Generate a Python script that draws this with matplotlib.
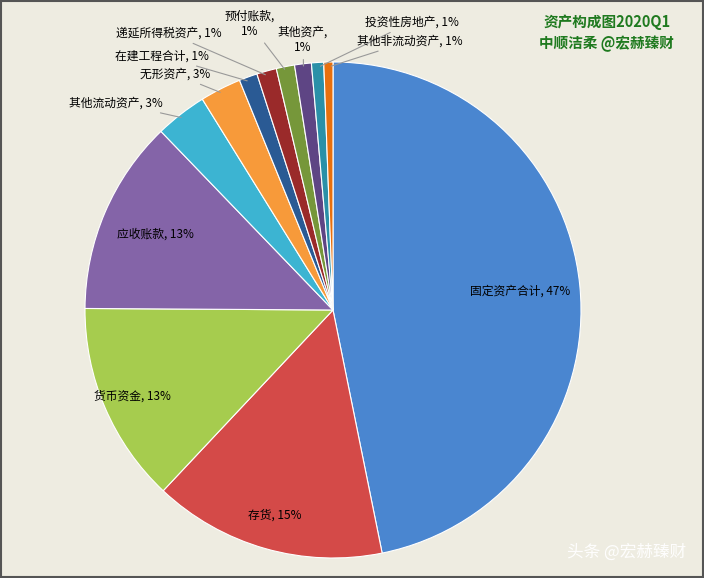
import numpy as np
import matplotlib.pyplot as plt

plt.rcParams['font.family'] = ['Noto Sans CJK SC', 'DejaVu Sans']

labels = ['固定资产合计', '存货', '货币资金', '应收账款', '其他流动资产', '无形资产',
          '在建工程合计', '递延所得税资产', '预付账款', '其他资产', '投资性房地产', '其他非流动资产']
values = [47.2, 15.3, 13.2, 12.8, 3.4, 2.7, 1.2, 1.3, 1.2, 1.1, 0.8, 0.6]
pct_text = ['47%', '15%', '13%', '13%', '3%', '3%', '1%', '1%', '1%', '1%', '1%', '1%']
colors = ['#4a86d0', '#d44a48', '#a6cc4e', '#8464a8', '#3cb4d2', '#f79a3a',
          '#2a5a94', '#9a2a2a', '#76973a', '#5e4584', '#2a90a8', '#e8700e']
# label radius for the big slices
inner_r = {0: 0.76, 1: 0.86, 2: 0.88, 3: 0.78}
# label text positions for the small slices (figure pixels, from top-left) and alignment
outside = {
    4: (163, 103, 'right', '其他流动资产, 3%'),
    5: (210, 74, 'right', '无形资产, 3%'),
    6: (209, 56, 'right', '在建工程合计, 1%'),
    7: (222, 33, 'right', '递延所得税资产, 1%'),
    8: (250, 24, 'center', '预付账款,\n1%'),
    9: (303, 40, 'center', '其他资产,\n1%'),
    10: (365, 22, 'left', '投资性房地产, 1%'),
    11: (357, 41, 'left', '其他非流动资产, 1%'),
}

W, H = 704, 578
fig = plt.figure(figsize=(W / 100, H / 100), dpi=100, facecolor='#eeece1')
fig.patches.append(plt.Rectangle((0.002, 0.002), 0.996, 0.996, transform=fig.transFigure,
                                 fill=False, edgecolor='#555555', lw=1.5))
cx, cy, r = 333, 310, 248
ax = fig.add_axes([(cx - r) / W, 1 - (cy + r) / H, 2 * r / W, 2 * r / H])
ax.set_facecolor('none')
wedges, _ = ax.pie(values, colors=colors, startangle=90, counterclock=False,
                   wedgeprops=dict(edgecolor='white', linewidth=0.8))
ax.set_xlim(-1, 1)
ax.set_ylim(-1, 1)
ax.set_aspect('equal')

for i, w in enumerate(wedges):
    ang = np.deg2rad((w.theta1 + w.theta2) / 2)
    if i in outside:
        px, py, ha, txt = outside[i]
        tx = (px - cx) / r
        ty = (cy - py) / r
        ax.annotate(txt, xy=(0.98 * np.cos(ang), 0.98 * np.sin(ang)), xytext=(tx, ty),
                    ha=ha, va='center', fontsize=8.5, annotation_clip=False,
                    arrowprops=dict(arrowstyle='-', color='#999999', lw=0.8))
    else:
        rr = inner_r[i]
        ax.text(rr * np.cos(ang), rr * np.sin(ang), f'{labels[i]}, {pct_text[i]}',
                ha='center', va='center', fontsize=8.5)

fig.text(0.862, 0.962, '资产构成图2020Q1', color='#1f7a1f', fontsize=10.5,
         fontweight='bold', ha='center', va='center')
fig.text(0.862, 0.925, '中顺洁柔 @宏赫臻财', color='#1f7a1f', fontsize=10.5,
         fontweight='bold', ha='center', va='center')
fig.text(0.975, 0.045, '头条 @宏赫臻财', color='white', fontsize=12,
         ha='right', va='center', alpha=0.95)

fig.savefig('out.png', dpi=100, facecolor=fig.get_facecolor())
